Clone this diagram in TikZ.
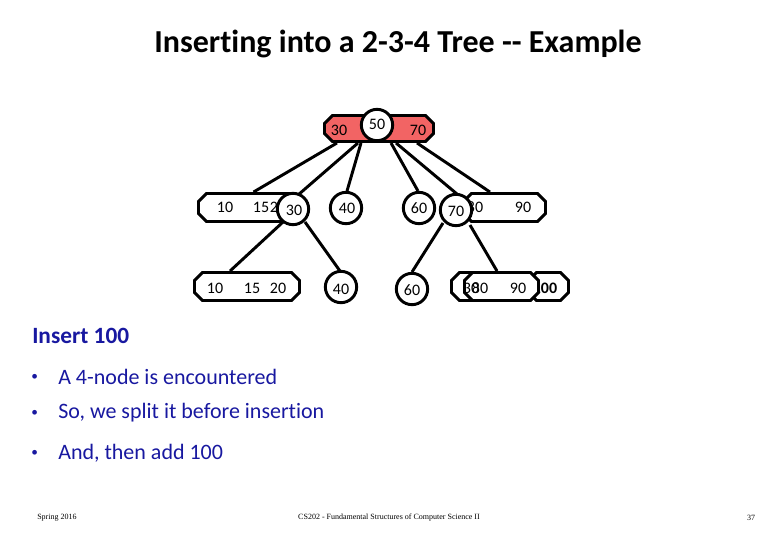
\documentclass[tikz,border=0pt]{standalone}
\usepackage{fontspec}
\setmainfont{Carlito}[Ligatures=NoCommon]
\newfontfamily\FootFont{Liberation Serif}
\usepackage{tikz}
\usetikzlibrary{calc,shapes.misc,backgrounds}
\definecolor{rootred}{RGB}{242,100,100}
\definecolor{slideblue}{RGB}{24,24,160}

\tikzset{
  keybox/.style={chamfered rectangle, chamfered rectangle xsep=3pt,
    chamfered rectangle ysep=3pt, draw, line width=2.2pt, fill=white,
    inner sep=0pt, text height=15pt, text depth=0pt, text width=#1},
  keycirc/.style={circle, draw, line width=2.2pt, fill=white, inner sep=0pt,
    minimum size=23.5pt},
  keynum/.style={font=\fontsize{12}{14}\selectfont, inner sep=0pt},
  treelink/.style={line width=2.2pt},
  bullettext/.style={font=\fontsize{16.5}{20}\selectfont, text=slideblue,
    anchor=west, inner sep=0pt},
}

\begin{document}
\begin{tikzpicture}[x=0.75pt, y=-0.75pt]
  % 画素座標 (780x540) をそのまま使う
  \useasboundingbox (0,0) rectangle (780,540);

  % 見出し
  \node[font=\fontsize{24}{28}\selectfont\bfseries] (title) at (398,44)
    {Inserting into a 2-3-4 Tree -{}- Example};

  % 根 (4-ノードの分割)
  \node[keybox=75.75pt, fill=rootred, text height=13.5pt] (root) at (379,128.5) {};
  \node[keynum] (r30) at (339,130) {30};
  \node[keynum] (r70) at (418,130) {70};
  \node[keycirc] (c50) at (377,125) {};
  \node[keynum] (n50) at (377,124) {50};

  % 第2段
  \node[keybox=72pt] (lvA) at (250.5,207.5) {};
  \node[keynum] (a10) at (225,207) {10};
  \node[keynum] (a15) at (261,207) {15};
  \node[keynum] (a20) at (278,207) {20};
  \node[keycirc] (c30) at (293,209) {};
  \node[keynum] (n30) at (294,210) {30};
  \node[keycirc] (c40a) at (346,208) {};
  \node[keynum] (n40a) at (347,208) {40};
  \node[keycirc] (c60a) at (419,208) {};
  \node[keynum] (n60a) at (419,208) {60};
  \node[keybox=55.5pt] (lvB) at (504.5,207.5) {};
  \node[keynum] (b80) at (475,207) {80};
  \node[keynum] (b90) at (523,207) {90};
  \node[keycirc] (c70) at (456,210) {};
  \node[keynum] (n70) at (456,211) {70};

  % 第3段
  \node[keybox=72.75pt] (lvC) at (247,286.5) {};
  \node[keynum] (c10) at (215,288) {10};
  \node[keynum] (c15) at (252,288) {15};
  \node[keynum] (c20) at (278,288) {20};
  \node[keycirc] (c40b) at (341,287) {};
  \node[keynum] (n40b) at (341,289) {40};
  \node[keycirc] (c60b) at (412,289) {};
  \node[keynum] (n60b) at (412,290) {60};
  \node[keybox=51.75pt] (lvD) at (490,286.5) {};
  \node[keybox=24pt] (lvF) at (548.5,286.5) {};
  \node[keynum, font=\fontsize{12}{14}\selectfont\bfseries] (f100) at (545,288) {100};
  \node[keybox=49.5pt] (lvE) at (501.5,286.5) {};
  \node[keynum] (e80) at (480,288) {80};
  \node[keynum] (e90) at (518,288) {90};
  \node[keynum] (d30) at (471,288) {30};

  % 枝 (ノードの下に描く)
  \begin{scope}[on background layer]
    \draw[treelink] ($(root.south)+(-42,0)$) -- ($(lvA.north)+(3,0)$);
    \draw[treelink] ($(root.south)+(-21,0)$) -- ($(c30)+(5,-14)$);
    \draw[treelink] ($(root.south)+(-18,0)$) -- ($(c40a)+(1,-17)$);
    \draw[treelink] ($(root.south)+(12,0)$) -- ($(c60a)+(-1,-17)$);
    \draw[treelink] ($(root.south)+(17,0)$) -- ($(c70)+(1,-16)$);
    \draw[treelink] ($(root.south)+(38,0)$) -- ($(lvB.north)+(-14.5,0)$);
    \draw[treelink] ($(c30)+(-10,13)$) -- ($(lvC.north)+(-17,0)$);
    \draw[treelink] ($(c30)+(12,13)$) -- ($(c40b)+(-1,-16)$);
    \draw[treelink] ($(c70)+(-13,13)$) -- ($(c60b)+(0,-17)$);
    \draw[treelink] ($(c70)+(14,15)$) -- ($(lvE.north)+(-4.5,0)$);
  \end{scope}

  % 説明文
  \node[bullettext, font=\fontsize{17.5}{20}\selectfont\bfseries] (ins) at (32,336) {Insert 100};
  \foreach \y/\txt [count=\k] in {377/A 4-node is encountered,
      413/{So, we split it before insertion},
      453/{And, then add 100}} {
    \node[bullettext, font=\fontsize{10}{12}\selectfont] (dot\k) at (31,\y) {•};
    \node[bullettext] (line\k) at (58,\y) {\txt};
  }

  % フッター
  \node[font=\FootFont\fontsize{6}{7}\selectfont, anchor=west, inner sep=0pt] (foot1) at (37,518) {Spring 2016};
  \node[font=\FootFont\fontsize{6}{7}\selectfont, inner sep=0pt] (foot2) at (389,518)
    {CS202 - Fundamental Structures of Computer Science II};
  \node[font=\FootFont\fontsize{6}{7}\selectfont, inner sep=0pt] (foot3) at (751,518) {37};
\end{tikzpicture}
\end{document}
